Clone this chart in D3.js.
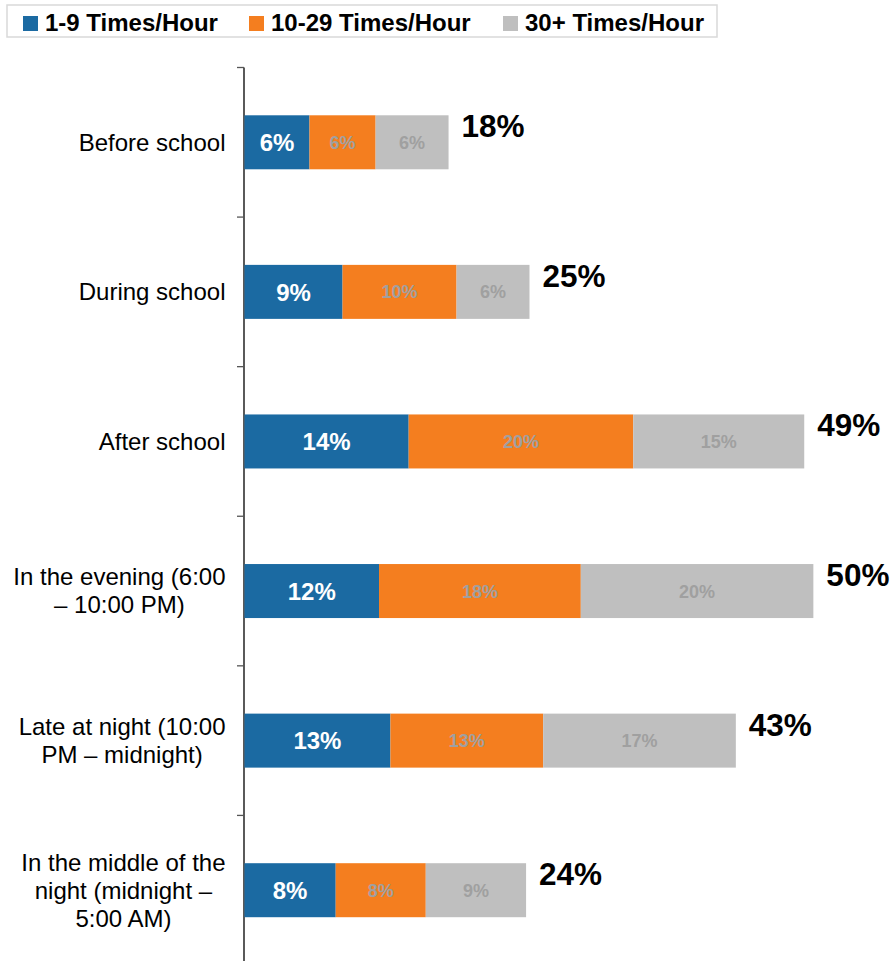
<!DOCTYPE html>
<html>
<head>
<meta charset="utf-8">
<script src="https://cdn.jsdelivr.net/npm/d3@7"></script>
<style>
  html, body { margin: 0; padding: 0; background: #ffffff; }
  svg { display: block; font-family: "Liberation Sans", Arial, sans-serif; }
</style>
</head>
<body>
<svg id="chart" width="890" height="961"></svg>
<script>
// ---- Data ----
const categories = [
  ["Before school"],
  ["During school"],
  ["After school"],
  ["In the evening (6:00", "– 10:00 PM)"],
  ["Late at night (10:00", "PM – midnight)"],
  ["In the middle of the", "night (midnight –", "5:00 AM)"]
];
const seriesNames = ["1-9 Times/Hour", "10-29 Times/Hour", "30+ Times/Hour"];
const low = [5.7, 8.6, 14.4, 11.8, 12.8, 8.0];     // 1-9 Times/Hour
const mid = [5.8, 10.0, 19.7, 17.7, 13.4, 7.9];    // 10-29 Times/Hour
const high = [6.4, 6.4, 15.0, 20.4, 16.9, 8.8];    // 30+ Times/Hour
const totals = [18, 25, 49, 50, 43, 24];           // total labels

const colors = ["#1b6aa2", "#f47e1f", "#bfbfbf"];
const labelColors = ["#ffffff", "#a0a0a0", "#a0a0a0"];

// ---- Setup ----
const svg = d3.select("#chart");
const catKeys = categories.map(c => c.join(" "));

const rows = catKeys.map((k, i) => ({ key: k, s0: low[i], s1: mid[i], s2: high[i], total: totals[i] }));
const stacked = d3.stack().keys(["s0", "s1", "s2"])(rows);

const x = d3.scaleLinear().domain([0, 55]).range([244.5, 244.5 + 55 * 11.4]);
const y = d3.scaleBand().domain(catKeys).range([67.5, 965]).paddingInner(0.639).paddingOuter(0.3195);

// ---- Legend ----
const legend = svg.append("g");
legend.append("rect")
  .attr("x", 7).attr("y", 5).attr("width", 710).attr("height", 32)
  .attr("fill", "#fff").attr("stroke", "#d9d9d9").attr("stroke-width", 1.5);
const legendX = [23, 249, 503];
seriesNames.forEach((n, i) => {
  legend.append("rect").attr("x", legendX[i]).attr("y", 16).attr("width", 15).attr("height", 15).attr("fill", colors[i]);
  legend.append("text").attr("x", legendX[i] + 22).attr("y", 31)
    .attr("font-size", 24).attr("font-weight", "bold").attr("fill", "#000").text(n);
});

// ---- Axis ----
const axisG = svg.append("g");
axisG.append("line")
  .attr("x1", 244).attr("x2", 244).attr("y1", 67.5).attr("y2", 961)
  .attr("stroke", "#000").attr("stroke-width", 1.3);
const step = y.step();
const boundaries = catKeys.map(k => y(k) - y.paddingOuter() * step);
axisG.selectAll("line.tick").data(boundaries).join("line")
  .attr("class", "tick")
  .attr("x1", 237).attr("x2", 244).attr("y1", d => d).attr("y2", d => d)
  .attr("stroke", "#555").attr("stroke-width", 1.3);

// ---- Category labels ----
const labelRight = 225.5;
categories.forEach((lines, i) => {
  const cy = y(catKeys[i]) + y.bandwidth() / 2;
  const lh = 28;
  const g = svg.append("g");
  const texts = lines.map((ln, j) =>
    g.append("text")
      .attr("y", cy + (j - (lines.length - 1) / 2) * lh)
      .attr("dy", "0.35em")
      .attr("font-size", 24).attr("fill", "#000")
      .attr("text-anchor", "middle")
      .text(ln));
  const maxW = d3.max(texts, t => t.node().getComputedTextLength());
  texts.forEach(t => t.attr("x", labelRight - maxW / 2));
});

// ---- Bars ----
stacked.forEach((layer, si) => {
  const g = svg.append("g");
  g.selectAll("rect").data(layer).join("rect")
    .attr("x", d => x(d[0]))
    .attr("y", d => y(d.data.key))
    .attr("width", d => x(d[1]) - x(d[0]))
    .attr("height", y.bandwidth())
    .attr("fill", colors[si]);
  g.selectAll("text").data(layer).join("text")
    .attr("x", d => (x(d[0]) + x(d[1])) / 2)
    .attr("y", d => y(d.data.key) + y.bandwidth() / 2)
    .attr("dy", "0.36em")
    .attr("text-anchor", "middle")
    .attr("font-weight", "bold")
    .attr("font-size", si === 0 ? 24 : 18)
    .attr("fill", labelColors[si])
    .text(d => d3.format(".0f")(d[1] - d[0]) + "%");
});

// ---- Totals ----
svg.append("g").selectAll("text").data(stacked[2]).join("text")
  .attr("x", d => x(d[1]) + 13)
  .attr("y", d => y(d.data.key) + 22)
  .attr("font-size", 31.5).attr("font-weight", "bold").attr("fill", "#000")
  .text(d => d.data.total + "%");
</script>
</body>
</html>
